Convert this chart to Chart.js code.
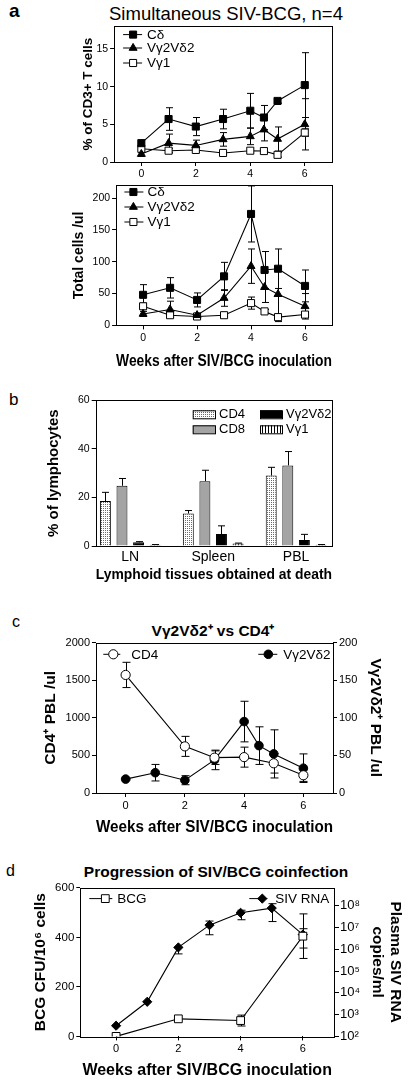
<!DOCTYPE html>
<html>
<head>
<meta charset="utf-8">
<script src="https://cdn.jsdelivr.net/npm/chart.js@4.4.1/dist/chart.umd.min.js"></script>
<style>
  body { margin: 0; width: 411px; height: 1084px; position: relative; overflow: hidden; background: #fff;
         font-family: "Liberation Sans", Arial, sans-serif; color: #000; }
  canvas { position: absolute; }
  .lbl { position: absolute; line-height: 1; white-space: nowrap; }
</style>
</head>
<body>
<div class="lbl" style="left:9px;top:1px;font-size:19px;font-weight:bold">a</div>
<div class="lbl" style="left:226px;top:4.5px;font-size:18.5px;transform:translateX(-50%)">Simultaneous SIV-BCG, n=4</div>
<div class="lbl" style="left:9px;top:390.6px;font-size:17px">b</div>
<div class="lbl" style="left:12px;top:613.8px;font-size:16px">c</div>
<div class="lbl" style="left:213px;top:623px;font-size:15.5px;font-weight:bold;transform:translateX(-50%)">Vγ2Vδ2⁺ vs CD4⁺</div>
<div class="lbl" style="left:6px;top:863.2px;font-size:16px">d</div>
<div class="lbl" style="left:216px;top:864.4px;font-size:15.5px;font-weight:bold;transform:translateX(-50%)">Progression of SIV/BCG coinfection</div>

<canvas id="aTop"></canvas>
<canvas id="aBot"></canvas>
<canvas id="b"></canvas>
<canvas id="c"></canvas>
<canvas id="d"></canvas>

<script>
// ---------- data ----------
const weeks = [0, 1, 2, 3, 4, 4.5, 5, 6];
const weekTicks = [0, 2, 4, 6];

// a (top): % of CD3+ T cells
const pctCd = [2.5, 5.7, 4.7, 5.7, 6.8, 5.9, 8.1, 10.2];
const pctCdErr = [0.3, 1.5, 1.2, 1.3, 2.3, 1.6, 0.3, 4.3];
const pctV2 = [1.05, 2.5, 2.2, 3.0, 3.4, 4.3, 3.05, 5.0];
const pctV2Err = [0.3, 1.2, 0.7, 0.9, 1.1, 1.5, 1.6, 3.4];
const pctV1 = [1.75, 1.5, 1.6, 1.2, 1.5, 1.45, 0.95, 3.9];
const pctV1Err = [0.3, 0.3, 0.3, 0.2, 0.3, 0.3, 0.3, 0.5];
const pctTicks = [0, 5, 10, 15];

// a (bottom): total cells /ul
const cellsCd = [48, 59, 40, 77, 175, 87, 89, 62];
const cellsCdErr = [16, 16, 11, 22, 44, 29, 31, 25];
const cellsV2 = [18, 25, 16, 43, 93, 60, 49, 30];
const cellsV2Err = [4, 13, 3, 13, 27, 24, 43, 20];
const cellsV1 = [30, 16, 14, 16, 35, 22, 13, 17];
const cellsV1Err = [5, 3, 3, 2, 9.5, 3, 2, 3];
const cellsTicks = [0, 50, 100, 150, 200];

// b: % of lymphocytes at death
const tissues = ['LN', 'Spleen', 'PBL'];
const lymCd4 = [18.5, 13.4, 29.0];
const lymCd4Err = [3.6, 1.2, 3.4];
const lymCd8 = [24.8, 26.7, 33.2];
const lymCd8Err = [3.0, 4.5, 5.7];
const lymV2 = [1.5, 4.9, 2.5];
const lymV2Err = [0.3, 3.4, 2.3];
const lymV1 = [0.5, 1.0, 0.5];
const lymV1Err = [0.1, 0.2, 0.1];
const lymTicks = [0, 20, 40, 60];

// c: CD4+ vs Vg2Vd2+ PBL
const cd4Weeks = [0, 2, 3, 4, 5, 6];
const cd4Pbl = [1570, 620, 470, 477, 395, 236];
const cd4Err = [168, 133, 90, 133, 130, 82];
const v2Pbl = [18.5, 27, 17, 44, 95, 63, 52, 33];
const v2PblErr = [1, 11, 6, 13, 27, 25, 32, 19];
const cd4Ticks = [0, 500, 1000, 1500, 2000];
const v2Ticks = [0, 50, 100, 150, 200];

// d: BCG CFU and plasma SIV RNA
const bcgWeeks = [0, 2, 4, 6];
const bcgCfu = [0, 71, 64, 405];
const bcgErr = [0, 0, 22, 90];
const sivWeeks = [0, 1, 2, 3, 4, 5, 6];
const sivRna = [3.1e2, 3.9e3, 1.23e6, 1.3e7, 4.8e7, 7.9e7, 4.8e6];
const sivLo = [3.1e2, 3.9e3, 6.2e5, 4.7e6, 2.3e7, 1.9e7, 1.15e6];
const sivHi = [3.1e2, 3.9e3, 1.23e6, 2.0e7, 6.3e7, 1.26e8, 8.9e6];
const cfuTicks = [0, 200, 400, 600];
const rnaTicks = [1e2, 1e3, 1e4, 1e5, 1e6, 1e7, 1e8];

// ---------- helpers ----------
const FONT = '"Liberation Sans", Arial, Helvetica, sans-serif';
Chart.defaults.font.family = FONT;
Chart.defaults.color = '#000';
const PAD = { top: 8, right: 4, bottom: 2, left: 4 };
const SUP = '⁰¹²³⁴⁵⁶⁷⁸⁹';

// box around the plot area
const framePlugin = {
  id: 'frame',
  beforeDatasetsDraw(chart) {
    const { ctx, chartArea: a } = chart;
    ctx.save();
    ctx.strokeStyle = '#000';
    ctx.lineWidth = 1;
    ctx.strokeRect(Math.round(a.left) + 0.5, Math.round(a.top) + 0.5,
      Math.round(a.right - a.left), Math.round(a.bottom - a.top));
    ctx.restore();
  }
};

// error bars from dataset.err (symmetric) or dataset.lo / dataset.hi
const errorBars = {
  id: 'errorBars',
  beforeDatasetsDraw(chart, args, opts) {
    const ctx = chart.ctx;
    const w = (opts.cap || 7) / 2;
    chart.data.datasets.forEach((ds, i) => {
      if (!ds.err && !ds.lo) return;
      const meta = chart.getDatasetMeta(i);
      const ys = chart.scales[meta.yAxisID];
      ctx.save();
      ctx.strokeStyle = '#000';
      ctx.lineWidth = 1;
      meta.data.forEach((el, j) => {
        const v = ds.data[j].y;
        let lo, hi;
        if (ds.lo) { lo = ds.lo[j]; hi = ds.hi[j]; }
        else { hi = v + ds.err[j]; lo = ds.upOnly ? v : v - ds.err[j]; }
        if (hi === lo) return;
        const x = Math.round(el.x) + 0.5;
        const yl = ys.getPixelForValue(lo), yh = ys.getPixelForValue(hi);
        ctx.beginPath();
        ctx.moveTo(x, yl); ctx.lineTo(x, yh);
        ctx.moveTo(x - w, yh); ctx.lineTo(x + w, yh);
        if (!ds.upOnly && lo !== v) { ctx.moveTo(x - w, yl); ctx.lineTo(x + w, yl); }
        ctx.stroke();
      });
      ctx.restore();
    });
  }
};

// legend drawn inside the plot: "-marker- label" or swatch + label
const lineLegend = {
  id: 'lineLegend',
  afterDatasetsDraw(chart, args, opts) {
    if (!opts.items) return;
    const { ctx, chartArea: a } = chart;
    ctx.save();
    ctx.font = (opts.size || 13) + 'px ' + FONT;
    ctx.textBaseline = 'middle';
    ctx.lineWidth = 1;
    ctx.strokeStyle = '#000';
    opts.items.forEach(it => {
      const ds = chart.data.datasets[it.ds];
      const y = a.top + it.y;
      if (it.box) {
        ctx.fillStyle = ds.backgroundColor;
        ctx.fillRect(a.left + it.x0, y - it.h / 2, it.x1 - it.x0, it.h);
        ctx.strokeRect(a.left + it.x0 + 0.5, y - it.h / 2 + 0.5, it.x1 - it.x0, it.h);
      } else {
        ctx.beginPath();
        ctx.moveTo(a.left + it.x0, y); ctx.lineTo(a.left + it.x1, y);
        ctx.stroke();
        ctx.fillStyle = ds.pointBackgroundColor;
        Chart.helpers.drawPoint(ctx, { pointStyle: ds.pointStyle, radius: ds.pointRadius, borderWidth: 1, rotation: 0 },
          a.left + it.mx, y);
      }
      ctx.fillStyle = '#000';
      ctx.fillText(ds.label, a.left + it.tx, y + 0.5);
    });
    ctx.restore();
  }
};

function axis(position, min, max, ticks, title, titleSize, tickSize, extra) {
  return Object.assign({
    type: 'linear', position, min, max,
    afterBuildTicks: sc => { sc.ticks = ticks.map(v => ({ value: v })); },
    grid: { drawOnChartArea: false, tickLength: 4, color: '#000' },
    border: { display: false },
    ticks: { font: { size: tickSize }, padding: 2, color: '#000', maxRotation: 0, autoSkip: false,
             callback: v => String(v) },
    title: { display: !!title, text: title || '', color: '#000',
             font: { size: titleSize, weight: 'bold' }, padding: { top: 4, bottom: 4 } }
  }, extra || {});
}

function series(label, xs, ys, err, style, fill, radius, yAxisID) {
  return {
    label, err, yAxisID: yAxisID || 'y',
    data: xs.map((x, i) => ({ x, y: ys[i] })),
    borderColor: '#000', borderWidth: 1.1, tension: 0, fill: false,
    pointStyle: style, pointRadius: radius, pointBorderWidth: 1,
    pointBackgroundColor: fill, pointBorderColor: '#000'
  };
}

// geo.area = plot box [left, top, right, bottom] in page px; yl/yr/xb = axis box sizes
function makeChart(id, geo, cfg) {
  const [l, t, r, b] = geo.area;
  const c = document.getElementById(id);
  const left = l - geo.yl - PAD.left, top = t - PAD.top;
  c.style.left = left + 'px';
  c.style.top = top + 'px';
  c.width = Math.round(r + (geo.yr || 0) + PAD.right - left);
  c.height = Math.round(b + geo.xb + PAD.bottom - top);
  const size = { bottom: geo.xb, left: geo.yl, right: geo.yr };
  Object.values(cfg.options.scales).forEach(s => {
    s.afterFit = sc => {
      if (s.position === 'bottom') sc.height = size.bottom;
      else sc.width = size[s.position];
    };
  });
  cfg.options = Object.assign({ responsive: false, animation: false, events: [], layout: { padding: PAD } }, cfg.options);
  cfg.options.plugins = Object.assign({ legend: { display: false }, tooltip: { enabled: false } }, cfg.options.plugins);
  cfg.plugins = [framePlugin, errorBars, lineLegend];
  return new Chart(c, cfg);
}

function patternOf(w, h, paint) {
  const p = document.createElement('canvas');
  p.width = w; p.height = h;
  paint(p.getContext('2d'));
  return document.getElementById('b').getContext('2d').createPattern(p, 'repeat');
}

const WEEKS_TITLE = 'Weeks after SIV/BCG inoculation';

// ---------- a, top ----------
makeChart('aTop', { area: [114, 26, 334, 162], yl: 38.1, xb: 22 }, {
  type: 'line',
  data: { datasets: [
    series('Cδ', weeks, pctCd, pctCdErr, 'rect', '#000', 5),
    series('Vγ2Vδ2', weeks, pctV2, pctV2Err, 'triangle', '#000', 4.6),
    series('Vγ1', weeks, pctV1, pctV1Err, 'rect', '#fff', 5)
  ] },
  options: {
    scales: {
      x: axis('bottom', -1, 7, weekTicks, null, 0, 10.5),
      y: axis('left', 0, 18, pctTicks, '% of CD3+ T cells', 13.5, 10.5)
    },
    plugins: {
      errorBars: { cap: 7 },
      lineLegend: { size: 13.5, items: [
        { ds: 0, x0: 9, x1: 28, mx: 19, tx: 33, y: 8.3 },
        { ds: 1, x0: 9, x1: 28, mx: 19, tx: 33, y: 21.7 },
        { ds: 2, x0: 9, x1: 28, mx: 19, tx: 33, y: 36.7 }
      ] }
    }
  }
});

// ---------- a, bottom ----------
makeChart('aBot', { area: [115.7, 185, 333.7, 325.7], yl: 49.1, xb: 49.6 }, {
  type: 'line',
  data: { datasets: [
    series('Cδ', weeks, cellsCd, cellsCdErr, 'rect', '#000', 5),
    series('Vγ2Vδ2', weeks, cellsV2, cellsV2Err, 'triangle', '#000', 4.6),
    series('Vγ1', weeks, cellsV1, cellsV1Err, 'rect', '#fff', 5)
  ] },
  options: {
    scales: {
      x: axis('bottom', -1, 7, weekTicks, WEEKS_TITLE, 16, 10.5),
      y: axis('left', 0, 220, cellsTicks, 'Total cells /ul', 14, 10.5)
    },
    plugins: {
      errorBars: { cap: 7 },
      lineLegend: { size: 13.5, items: [
        { ds: 0, x0: 8.3, x1: 27.3, mx: 17.3, tx: 31.3, y: 6.7 },
        { ds: 1, x0: 8.3, x1: 27.3, mx: 17.3, tx: 31.3, y: 21.7 },
        { ds: 2, x0: 8.3, x1: 27.3, mx: 17.3, tx: 31.3, y: 36.7 }
      ] }
    }
  }
});

// ---------- b ----------
const stipple = patternOf(2, 2, g => {
  g.fillStyle = '#fff'; g.fillRect(0, 0, 2, 2);
  g.fillStyle = '#6a6a6a'; g.fillRect(0, 0, 1, 1);
});
const stripes = patternOf(3, 1, g => {
  g.fillStyle = '#fff'; g.fillRect(0, 0, 3, 1);
  g.fillStyle = '#000'; g.fillRect(0, 0, 1, 1);
});
const tissueX = tissues.map((_, i) => i);
function barSet(label, vals, err, fill) {
  return {
    label, err, upOnly: true,
    data: tissueX.map((x, i) => ({ x, y: vals[i] })),
    backgroundColor: fill, borderColor: '#000', borderWidth: 1,
    categoryPercentage: 0.8, barPercentage: 0.66
  };
}
makeChart('b', { area: [95.7, 400, 332.3, 546], yl: 54.7, xb: 42 }, {
  type: 'bar',
  data: { datasets: [
    barSet('CD4', lymCd4, lymCd4Err, stipple),
    barSet('CD8', lymCd8, lymCd8Err, '#a4a4a4'),
    barSet('Vγ2Vδ2', lymV2, lymV2Err, '#000'),
    barSet('Vγ1', lymV1, lymV1Err, stripes)
  ] },
  options: {
    scales: {
      x: axis('bottom', -0.417, 2.433, tissueX, 'Lymphoid tissues obtained at death', 15, 14, {
        offset: false,
        grid: { drawOnChartArea: false, drawTicks: false },
        ticks: { font: { size: 14 }, padding: 3, color: '#000', autoSkip: false, maxRotation: 0,
                 callback: v => tissues[v] }
      }),
      y: axis('left', 0, 60, lymTicks, '% of lymphocytes', 15, 10.5)
    },
    plugins: {
      errorBars: { cap: 7 },
      lineLegend: { size: 13, items: [
        { ds: 0, box: true, x0: 97, x1: 119.3, h: 8, tx: 123.3, y: 14 },
        { ds: 1, box: true, x0: 97, x1: 119.3, h: 8, tx: 123.3, y: 29 },
        { ds: 2, box: true, x0: 164.3, x1: 186.3, h: 8, tx: 190.3, y: 14 },
        { ds: 3, box: true, x0: 164.3, x1: 186.3, h: 8, tx: 190.3, y: 29 }
      ] }
    }
  }
});

// ---------- c ----------
makeChart('c', { area: [95.7, 642.3, 332.3, 793.3], yl: 59, yr: 56, xb: 48 }, {
  type: 'line',
  data: { datasets: [
    series('CD4', cd4Weeks, cd4Pbl, cd4Err, 'circle', '#fff', 4.6, 'y'),
    series('Vγ2Vδ2', weeks, v2Pbl, v2PblErr, 'circle', '#000', 4.3, 'y2')
  ] },
  options: {
    scales: {
      x: axis('bottom', -1, 7, weekTicks, WEEKS_TITLE, 16, 11),
      y: axis('left', 0, 2000, cd4Ticks, 'CD4⁺ PBL /ul', 15.5, 11),
      y2: axis('right', 0, 200, v2Ticks, 'Vγ2Vδ2⁺ PBL /ul', 15.5, 11)
    },
    plugins: {
      errorBars: { cap: 8 },
      lineLegend: { size: 13.5, items: [
        { ds: 0, x0: 7.3, x1: 24.3, mx: 17.3, tx: 35.3, y: 11.7 },
        { ds: 1, x0: 162.3, x1: 181.3, mx: 172.3, tx: 187.3, y: 11.7 }
      ] }
    }
  }
});

// ---------- d ----------
makeChart('d', { area: [80, 887, 333.3, 1036], yl: 53.3, yr: 75, xb: 47.6 }, {
  type: 'line',
  data: { datasets: [
    series('BCG', bcgWeeks, bcgCfu, bcgErr, 'rect', '#fff', 5.5, 'y'),
    Object.assign(series('SIV RNA', sivWeeks, sivRna, null, 'rectRot', '#000', 4.6, 'y2'), { lo: sivLo, hi: sivHi })
  ] },
  options: {
    scales: {
      x: axis('bottom', -1.15, 7.0, weekTicks, WEEKS_TITLE, 16, 11),
      y: axis('left', 0, 600, cfuTicks, 'BCG CFU/10⁶ cells', 15.5, 11.5),
      y2: axis('right', 100, 6.7e8, rnaTicks, ['Plasma SIV RNA', 'copies/ml'], 15.5, 13, {
        type: 'logarithmic',
        grid: { drawOnChartArea: false, tickLength: 5, color: '#000' },
        ticks: { font: { size: 13 }, padding: 1, color: '#000', autoSkip: false,
                 callback: v => '10' + SUP[Math.round(Math.log10(v))] }
      })
    },
    plugins: {
      errorBars: { cap: 8 },
      lineLegend: { size: 13.5, items: [
        { ds: 0, x0: 9, x1: 32, mx: 25, tx: 37, y: 10.7 },
        { ds: 1, x0: 169, x1: 187, mx: 182, tx: 195, y: 10.7 }
      ] }
    }
  }
});
</script>
</body>
</html>
